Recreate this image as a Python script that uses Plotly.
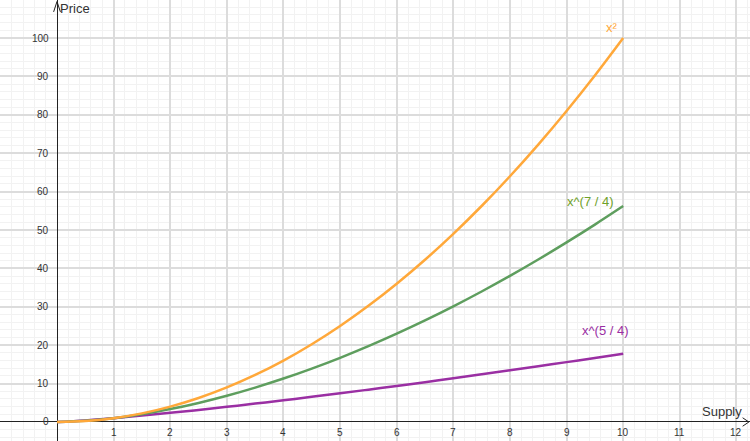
import plotly.graph_objects as go

supply = [0, 0.5, 1, 1.5, 2, 2.5, 3, 3.5, 4, 4.5, 5, 5.5, 6, 6.5, 7, 7.5, 8, 8.5, 9, 9.5, 10]
price_sq = [0, 0.25, 1, 2.25, 4, 6.25, 9, 12.25, 16, 20.25, 25, 30.25, 36, 42.25, 49,
            56.25, 64, 72.25, 81, 90.25, 100]
price_74 = [0, 0.297, 1, 2.033, 3.364, 4.970, 6.839, 8.957, 11.314, 13.904, 16.719,
            19.755, 23.003, 26.46, 30.125, 33.99, 38.05, 42.31, 46.77, 51.41, 56.23]
price_54 = [0, 0.420, 1, 1.660, 2.378, 3.144, 3.948, 4.787, 5.657, 6.554, 7.477,
            8.423, 9.391, 10.38, 11.39, 12.41, 13.45, 14.52, 15.59, 16.68, 17.78]

x_ticks = [1, 2, 3, 4, 5, 6, 7, 8, 9, 10, 11, 12]
y_ticks = [0, 10, 20, 30, 40, 50, 60, 70, 80, 90, 100]

ORANGE = "#FFA83A"
GREEN = "#5E9E5E"
GREEN_TXT = "#6FA12A"
PURPLE = "#9A2FA3"

XR = [-1.007, 12.24]
YR = [-4.95, 109.9]

fig = go.Figure()
fig.add_trace(go.Scatter(x=supply, y=price_54, mode="lines", line=dict(color=PURPLE, width=2.5, shape="spline"), hoverinfo="skip"))
fig.add_trace(go.Scatter(x=supply, y=price_74, mode="lines", line=dict(color=GREEN, width=2.5, shape="spline"), hoverinfo="skip"))
fig.add_trace(go.Scatter(x=supply, y=price_sq, mode="lines", line=dict(color=ORANGE, width=2.5, shape="spline"), hoverinfo="skip"))

# axis arrows (chevrons)
fig.add_trace(go.Scatter(x=[-0.06, 0, 0.06], y=[106.8, 109.5, 106.8], mode="lines",
                         line=dict(color="#222", width=1), hoverinfo="skip"))
fig.add_trace(go.Scatter(x=[12.11, 12.22, 12.11], y=[1.1, 0, -1.1], mode="lines",
                         line=dict(color="#222", width=1), hoverinfo="skip"))

ann = []
for t in x_ticks:
    ann.append(dict(x=t, y=0, text=str(t), showarrow=False, yshift=-11,
                    font=dict(size=10, color="#333")))
for t in y_ticks:
    ann.append(dict(x=0, y=t, text=str(t), showarrow=False, xanchor="right", xshift=-6,
                    font=dict(size=10, color="#333")))
ann.append(dict(x=0, y=YR[1], text="Price", showarrow=False, xanchor="left", yanchor="top",
                xshift=1, yshift=1, font=dict(size=13, color="#333")))
ann.append(dict(x=12.13, y=0, text="Supply", showarrow=False, xanchor="right", yanchor="bottom",
                yshift=1, font=dict(size=13, color="#333")))
ann.append(dict(x=9.8, y=102.8, text="x²", showarrow=False, font=dict(size=13, color=ORANGE)))
ann.append(dict(x=9.42, y=57.3, text="x^(7 / 4)", showarrow=False, font=dict(size=13, color=GREEN_TXT)))
ann.append(dict(x=9.68, y=23.7, text="x^(5 / 4)", showarrow=False, font=dict(size=13, color=PURPLE)))

fig.update_layout(
    width=750, height=441,
    margin=dict(l=0, r=0, t=0, b=0),
    paper_bgcolor="white", plot_bgcolor="white",
    showlegend=False,
    font=dict(family="Liberation Sans, Arial, sans-serif"),
    annotations=ann,
    xaxis=dict(range=XR, dtick=1, tick0=0, showgrid=True, gridcolor="#DCDCDC", gridwidth=1.5,
               minor=dict(dtick=0.2, tick0=0, showgrid=True, gridcolor="#F2F2F2", gridwidth=1),
               showticklabels=False, zeroline=True, zerolinecolor="#222", zerolinewidth=1.3,
               fixedrange=True),
    yaxis=dict(range=YR, dtick=10, tick0=0, showgrid=True, gridcolor="#DCDCDC", gridwidth=1.5,
               minor=dict(dtick=2, tick0=0, showgrid=True, gridcolor="#F2F2F2", gridwidth=1),
               showticklabels=False, zeroline=True, zerolinecolor="#222", zerolinewidth=1.3,
               fixedrange=True),
)
fig.write_html("out.html", config={"displayModeBar": False},
               post_script="document.body.style.margin='0px';document.body.style.overflow='hidden';")
